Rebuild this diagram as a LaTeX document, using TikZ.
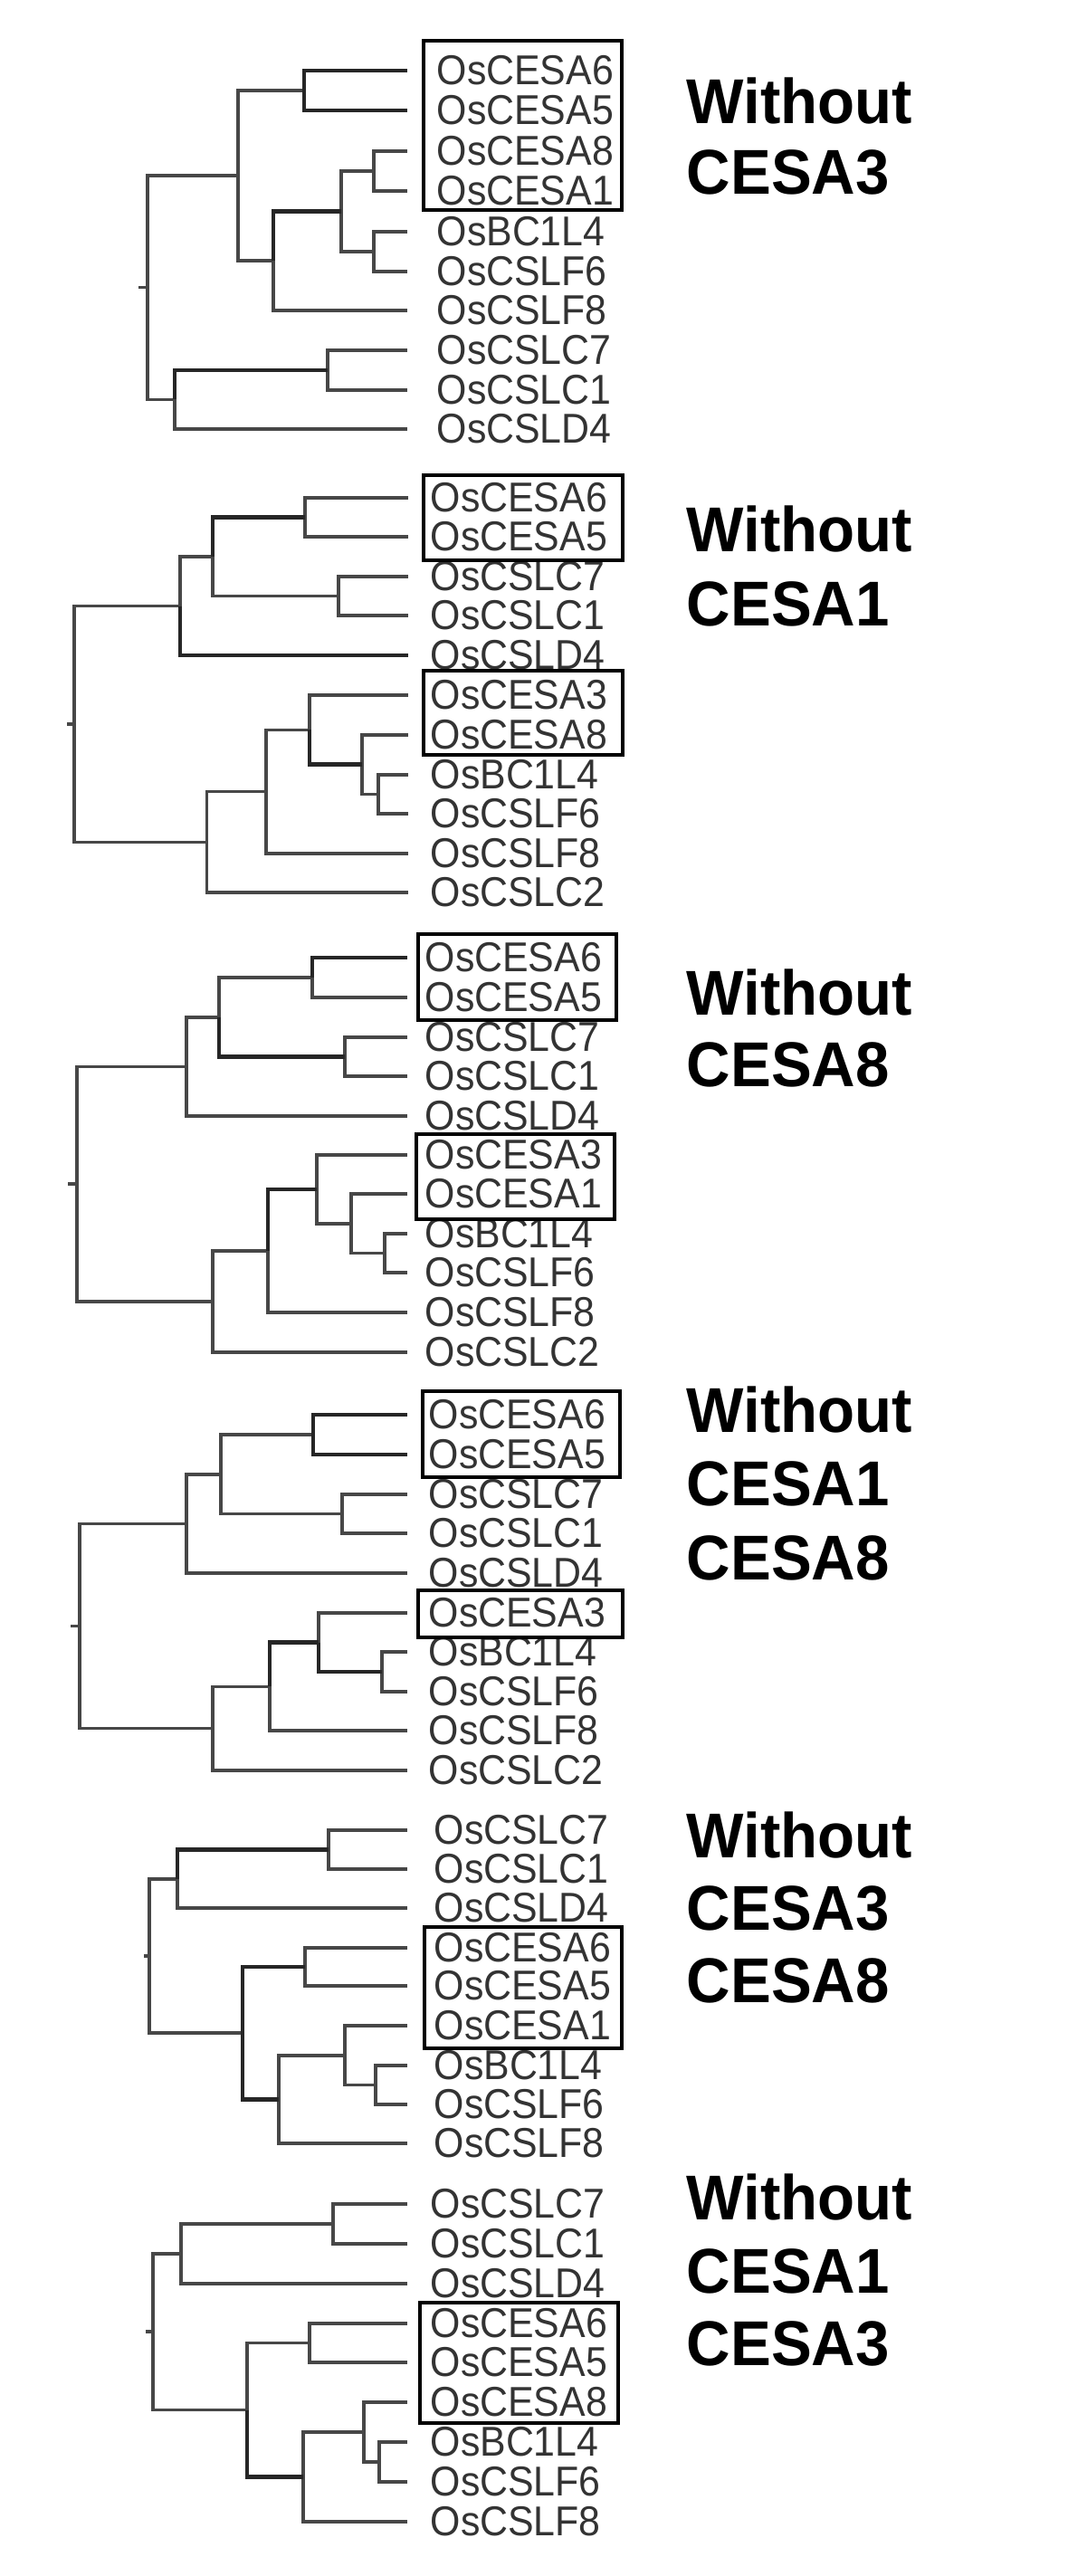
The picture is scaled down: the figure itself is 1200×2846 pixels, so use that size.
\documentclass[tikz,border=0pt]{standalone}
\usepackage{fontspec}
\setmainfont{Liberation Sans}
\newfontfamily\leaffont[FakeStretch=0.93]{Liberation Sans}
\newfontfamily\tagfont[FakeStretch=0.96]{Liberation Sans}

\begin{document}
\begin{tikzpicture}[x=0.01cm, y=-0.01cm,
	leaf/.style={anchor=west, inner sep=0pt, text=black!80, font=\leaffont\fontsize{13.1}{14}\selectfont},
	tag/.style={anchor=base west, inner sep=0pt, font=\tagfont\bfseries\fontsize{19.9}{22}\selectfont},
	br/.style={draw=black!72, line width=1pt},
	brb/.style={draw=black!85, line width=1.35pt},
	selbox/.style={draw=black, line width=1pt}]
	\fill[white] (0,0) rectangle (1200,2846);
	\useasboundingbox (0,0) rectangle (1200,2846);

	% without CESA3
	\foreach \i/\y/\t in {1/78/OsCESA6, 2/122/OsCESA5, 3/167/OsCESA8, 4/211/OsCESA1, 5/256/OsBC1L4,
		6/300/OsCSLF6, 7/343/OsCSLF8, 8/387/OsCSLC7, 9/431/OsCSLC1, 10/474/OsCSLD4} {
		\coordinate (A\i) at (450,\y);
		\node[leaf] (LA\i) at (482,\y) {\t};
	}
	\coordinate (An1) at (336,100);
	\coordinate (An2) at (413,189);
	\coordinate (An3) at (413,278);
	\coordinate (An4) at (377,233.5);
	\coordinate (An5) at (302,288);
	\coordinate (An6) at (263,194);
	\coordinate (An7) at (362,409);
	\coordinate (An8) at (193,441.5);
	\coordinate (Ar) at (163,317.5);
	\coordinate (At) at (153,317.5);
	\foreach \p/\c in {An2/A3, An2/A4, An3/A5, An3/A6, An4/An2, An4/An3, An5/A7, An6/An1, An6/An5,
		An7/A8, An7/A9, An8/A10, Ar/An6, Ar/An8}
		\draw[br] (\p) |- (\c);
	\foreach \p/\c in {An1/A1, An1/A2, An5/An4, An8/An7}
		\draw[brb] (\p) |- (\c);
	\draw[br] (Ar) -- (At);
	\draw[selbox] (468,45) rectangle (687,232);
	\node[tag] (A-w) at (758,137) {Without};
	\node[tag] (A-c) at (758,215) {CESA3};

	% without CESA1
	\foreach \i/\y/\t in {1/550/OsCESA6, 2/593/OsCESA5, 3/637/OsCSLC7, 4/680/OsCSLC1, 5/724/OsCSLD4,
		6/768/OsCESA3, 7/812/OsCESA8, 8/856/OsBC1L4, 9/899/OsCSLF6, 10/943/OsCSLF8, 11/986/OsCSLC2} {
		\coordinate (B\i) at (451,\y);
		\node[leaf] (LB\i) at (475,\y) {\t};
	}
	\coordinate (Bn1) at (337,571.5);
	\coordinate (Bn2) at (374,658.5);
	\coordinate (Bn3) at (235,615);
	\coordinate (Bn4) at (199,669.5);
	\coordinate (Bn5) at (418,877.5);
	\coordinate (Bn6) at (400,844.75);
	\coordinate (Bn7) at (342,806.4);
	\coordinate (Bn8) at (294,874.7);
	\coordinate (Bn9) at (228.5,930.3);
	\coordinate (Br) at (82,799.9);
	\coordinate (Bt) at (74,799.9);
	\foreach \p/\c in {Bn1/B1, Bn1/B2, Bn2/B3, Bn2/B4, Bn3/Bn2, Bn4/Bn3, Bn5/B8, Bn5/B9, Bn6/B7,
		Bn6/Bn5, Bn7/B6, Bn8/Bn7, Bn8/B10, Bn9/Bn8, Bn9/B11, Br/Bn4, Br/Bn9}
		\draw[br] (\p) |- (\c);
	\foreach \p/\c in {Bn3/Bn1, Bn4/B5, Bn7/Bn6}
		\draw[brb] (\p) |- (\c);
	\draw[br] (Br) -- (Bt);
	\draw[selbox] (468,525) rectangle (688,619);
	\draw[selbox] (468,741) rectangle (688,834);
	\node[tag] (B-w) at (758,610) {Without};
	\node[tag] (B-c) at (758,692) {CESA1};

	% without CESA8
	\foreach \i/\y/\t in {1/1058/OsCESA6, 2/1102/OsCESA5, 3/1146/OsCSLC7, 4/1189/OsCSLC1, 5/1233/OsCSLD4,
		6/1276/OsCESA3, 7/1319/OsCESA1, 8/1363/OsBC1L4, 9/1406/OsCSLF6, 10/1450/OsCSLF8, 11/1494/OsCSLC2} {
		\coordinate (C\i) at (450,\y);
		\node[leaf] (LC\i) at (469,\y) {\t};
	}
	\coordinate (Cn1) at (345,1080);
	\coordinate (Cn2) at (381,1167.5);
	\coordinate (Cn3) at (242,1123.75);
	\coordinate (Cn4) at (206,1178.4);
	\coordinate (Cn5) at (425,1384.5);
	\coordinate (Cn6) at (388,1351.75);
	\coordinate (Cn7) at (350,1313.9);
	\coordinate (Cn8) at (296,1381.9);
	\coordinate (Cn9) at (235,1437.9);
	\coordinate (Cr) at (85,1308.2);
	\coordinate (Ct) at (75,1308.2);
	\foreach \p/\c in {Cn1/C2, Cn2/C3, Cn2/C4, Cn3/Cn1, Cn4/Cn3, Cn4/C5, Cn5/C8, Cn5/C9, Cn6/C7,
		Cn6/Cn5, Cn7/C6, Cn7/Cn6, Cn8/C10, Cn9/Cn8, Cn9/C11, Cr/Cn4, Cr/Cn9}
		\draw[br] (\p) |- (\c);
	\foreach \p/\c in {Cn1/C1, Cn3/Cn2, Cn8/Cn7}
		\draw[brb] (\p) |- (\c);
	\draw[br] (Cr) -- (Ct);
	\draw[selbox] (462,1032) rectangle (681,1127);
	\draw[selbox] (460,1253) rectangle (679,1347);
	\node[tag] (C-w) at (758,1121) {Without};
	\node[tag] (C-c) at (758,1200) {CESA8};

	% without CESA1 CESA8
	\foreach \i/\y/\t in {1/1563/OsCESA6, 2/1607/OsCESA5, 3/1651/OsCSLC7, 4/1694/OsCSLC1, 5/1738/OsCSLD4,
		6/1782/OsCESA3, 7/1825/OsBC1L4, 8/1869/OsCSLF6, 9/1912/OsCSLF8, 10/1956/OsCSLC2} {
		\coordinate (D\i) at (450,\y);
		\node[leaf] (LD\i) at (473,\y) {\t};
	}
	\coordinate (Dn1) at (346,1585);
	\coordinate (Dn2) at (378,1672.5);
	\coordinate (Dn3) at (244,1628.75);
	\coordinate (Dn4) at (206,1683.4);
	\coordinate (Dn5) at (422,1847);
	\coordinate (Dn6) at (352,1814.5);
	\coordinate (Dn7) at (298,1863.25);
	\coordinate (Dn8) at (235,1909.6);
	\coordinate (Dr) at (88,1796.5);
	\coordinate (Dt) at (78,1796.5);
	\foreach \p/\c in {Dn2/D3, Dn2/D4, Dn3/Dn1, Dn3/Dn2, Dn4/Dn3, Dn4/D5, Dn5/D7, Dn5/D8, Dn6/D6,
		Dn7/D9, Dn8/Dn7, Dn8/D10, Dr/Dn4, Dr/Dn8}
		\draw[br] (\p) |- (\c);
	\foreach \p/\c in {Dn1/D1, Dn1/D2, Dn6/Dn5, Dn7/Dn6}
		\draw[brb] (\p) |- (\c);
	\draw[br] (Dr) -- (Dt);
	\draw[selbox] (467,1537) rectangle (685,1632);
	\draw[selbox] (462,1757) rectangle (688,1809);
	\node[tag] (D-w) at (758,1582) {Without};
	\node[tag] (D-c1) at (758,1663) {CESA1};
	\node[tag] (D-c2) at (758,1745) {CESA8};

	% without CESA3 CESA8
	\foreach \i/\y/\t in {1/2022/OsCSLC7, 2/2065/OsCSLC1, 3/2108/OsCSLD4, 4/2152/OsCESA6, 5/2194/OsCESA5,
		6/2238/OsCESA1, 7/2282/OsBC1L4, 8/2325/OsCSLF6, 9/2368/OsCSLF8} {
		\coordinate (E\i) at (450,\y);
		\node[leaf] (LE\i) at (479,\y) {\t};
	}
	\coordinate (En1) at (363,2043.5);
	\coordinate (En2) at (196,2075.75);
	\coordinate (En3) at (337,2173);
	\coordinate (En4) at (415,2303.5);
	\coordinate (En5) at (381,2270.75);
	\coordinate (En6) at (308,2319.4);
	\coordinate (En7) at (268,2246.2);
	\coordinate (Er) at (165,2161);
	\coordinate (Et) at (159,2161);
	\foreach \p/\c in {En1/E1, En1/E2, En2/E3, En3/E4, En3/E5, En4/E7, En4/E8, En5/E6, En5/En4,
		En6/En5, En6/E9, Er/En2, Er/En7}
		\draw[br] (\p) |- (\c);
	\foreach \p/\c in {En2/En1, En7/En3, En7/En6}
		\draw[brb] (\p) |- (\c);
	\draw[br] (Er) -- (Et);
	\draw[selbox] (469,2129) rectangle (687,2263);
	\node[tag] (E-w) at (758,2052) {Without};
	\node[tag] (E-c1) at (758,2132) {CESA3};
	\node[tag] (E-c2) at (758,2212) {CESA8};

	% without CESA1 CESA3
	\foreach \i/\y/\t in {1/2435/OsCSLC7, 2/2479/OsCSLC1, 3/2523/OsCSLD4, 4/2567/OsCESA6, 5/2610/OsCESA5,
		6/2654/OsCESA8, 7/2698/OsBC1L4, 8/2742/OsCSLF6, 9/2786/OsCSLF8} {
		\coordinate (F\i) at (450,\y);
		\node[leaf] (LF\i) at (475,\y) {\t};
	}
	\coordinate (Fn1) at (368,2457);
	\coordinate (Fn2) at (200,2490);
	\coordinate (Fn3) at (342,2588.5);
	\coordinate (Fn4) at (419,2720);
	\coordinate (Fn5) at (402,2687);
	\coordinate (Fn6) at (335,2736.5);
	\coordinate (Fn7) at (273,2662.5);
	\coordinate (Fr) at (169,2576);
	\coordinate (Ft) at (161,2576);
	\foreach \p/\c in {Fn1/F1, Fn1/F2, Fn2/Fn1, Fn2/F3, Fn3/F4, Fn3/F5, Fn4/F7, Fn4/F8, Fn5/F6,
		Fn5/Fn4, Fn6/Fn5, Fn6/F9, Fn7/Fn3, Fr/Fn2, Fr/Fn7}
		\draw[br] (\p) |- (\c);
	\draw[brb] (Fn7) |- (Fn6);
	\draw[br] (Fr) -- (Ft);
	\draw[selbox] (464,2544) rectangle (683,2677);
	\node[tag] (F-w) at (758,2452) {Without};
	\node[tag] (F-c1) at (758,2533) {CESA1};
	\node[tag] (F-c2) at (758,2613) {CESA3};

\end{tikzpicture}
\end{document}
